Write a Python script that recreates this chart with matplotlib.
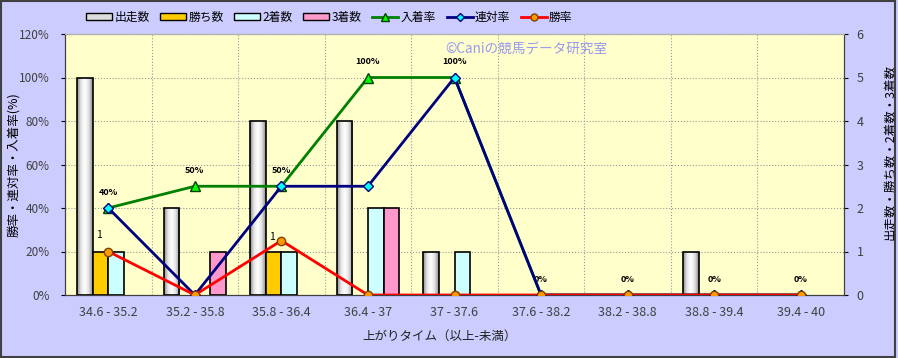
import numpy as np
import matplotlib.pyplot as plt
from matplotlib.patches import Patch, Rectangle
from matplotlib.lines import Line2D
from matplotlib.colors import LinearSegmentedColormap
from matplotlib.ticker import FuncFormatter

plt.rcParams['font.family'] = ['Noto Sans CJK JP', 'DejaVu Sans']

# data
categories = ['34.6 - 35.2', '35.2 - 35.8', '35.8 - 36.4', '36.4 - 37', '37 - 37.6',
              '37.6 - 38.2', '38.2 - 38.8', '38.8 - 39.4', '39.4 - 40']
starts = [5, 2, 4, 4, 1, 0, 0, 1, 0]      # 出走数
wins = [1, 0, 1, 0, 0, 0, 0, 0, 0]        # 勝ち数
seconds = [1, 0, 1, 2, 1, 0, 0, 0, 0]     # 2着数
thirds = [0, 1, 0, 2, 0, 0, 0, 0, 0]      # 3着数
place_rate = [40, 50, 50, 100, 100, 0, 0, 0, 0]   # 入着率
quin_rate = [40, 0, 50, 50, 100, 0, 0, 0, 0]      # 連対率
win_rate = [20, 0, 25, 0, 0, 0, 0, 0, 0]          # 勝率

fig = plt.figure(figsize=(8.98, 3.58), dpi=100, facecolor='#ccccff')
ax = fig.add_axes([65/898, 63/358, 779/898, 261/358])
ax.set_facecolor('#ffffcc')
ax2 = ax.twinx()
ax2.patch.set_visible(False)

x = np.arange(len(categories))
w = 0.18

def nz(vals):
    # bars with zero height are not drawn (no stray edge lines)
    v = np.array(vals, dtype=float)
    return np.where(v > 0, v, np.nan)

# bars on the count axis
cyl = LinearSegmentedColormap.from_list('cyl', ['#8c8c8c', '#e6e6e6', '#ffffff', '#e0e0e0', '#8a8a8a'])
grad = np.linspace(0, 1, 64).reshape(1, -1)
bars = ax.bar(x - 1.5*w, nz(starts), w, facecolor='none', edgecolor='black', lw=1.2, zorder=3)
for r in bars:
    if r.get_height() > 0:
        im = ax.imshow(grad, cmap=cyl, extent=[r.get_x(), r.get_x()+w, 0, r.get_height()],
                       aspect='auto', zorder=2.9)
        im.set_clip_path(r)
ax.bar(x - 0.5*w, nz(wins), w, color='#ffcc00', edgecolor='black', lw=1.2, zorder=3)
ax.bar(x + 0.5*w, nz(seconds), w, color='#ccffff', edgecolor='black', lw=1.2, zorder=3)
ax.bar(x + 1.5*w, nz(thirds), w, color='#ff99cc', edgecolor='black', lw=1.2, zorder=3)

ax.set_xlim(-0.5, len(categories) - 0.5)
ax.set_ylim(0, 6)
ax.set_yticks(range(0, 7))
ax.set_xticks(x)
ax.set_xticklabels(categories)
ax.set_xticks(np.arange(-0.5, len(categories), 1), minor=True)
ax.grid(which='minor', axis='x', ls=':', color='#999999', lw=0.8)
ax.grid(which='major', axis='y', ls=':', color='#999999', lw=0.8)
ax.set_axisbelow(True)
ax.yaxis.tick_right()
ax.yaxis.set_label_position('right')
ax.tick_params(axis='x', which='both', length=0, pad=8, labelsize=9, labelcolor='#404040')
ax.tick_params(axis='y', length=3, pad=6, labelsize=9, labelcolor='#404040')
ax.set_ylabel('出走数・勝ち数・2着数・3着数', fontsize=9)
ax.yaxis.set_label_coords((883 - 65) / 779, 0.55)
ax.set_xlabel('上がりタイム（以上-未満）', fontsize=9, color='#202020')
ax.xaxis.set_label_coords((440 - 65) / 779, -(330 - 295) / 261)

# lines on the percent axis
ax2.plot(x, place_rate, color='#008000', lw=2, marker='^', ms=7, mfc='#00ff00', mec='#004000', zorder=4)
ax2.plot(x, quin_rate, color='#000080', lw=2, marker='D', ms=5, mfc='#00ffff', mec='#000080', zorder=5)
ax2.plot(x, win_rate, color='#ff0000', lw=2, marker='o', ms=6, mfc='#ff9900', mec='#804000', zorder=6)

for xi, v in zip(x, place_rate):
    ax2.annotate(f'{v}%', (xi, v), xytext=(0, 8), textcoords='offset points',
                 ha='center', va='bottom', fontsize=6.5, fontweight='bold')
red_offsets = [(-7, 8), (-7, -1)]
k = 0
for xi, v, n in zip(x, win_rate, wins):
    if v > 0:
        ax2.annotate(str(n), (xi, v), xytext=red_offsets[k], textcoords='offset points',
                     ha='center', va='bottom', fontsize=7.5)
        k += 1

ax2.set_ylim(0, 120)
ax2.set_yticks(range(0, 121, 20))
ax2.yaxis.set_major_formatter(FuncFormatter(lambda v, p: f'{int(v)}%'))
ax2.yaxis.tick_left()
ax2.yaxis.set_label_position('left')
ax2.tick_params(axis='y', length=3, pad=8, labelsize=8.5, labelcolor='#404040')
ax2.set_ylabel('勝率・連対率・入着率(%)', fontsize=9)
ax2.yaxis.set_label_coords((20 - 65) / 779, 0.5)

for a in (ax, ax2):
    for s in ('left', 'right', 'bottom'):
        a.spines[s].set_color('#404040')
    a.spines['top'].set_color('#b0b0b0')

fig.text(445/898, 1 - 49/358, '©Caniの競馬データ研究室', color='#9999ee', fontsize=9.8,
         va='center', ha='left')

handles = [Patch(facecolor='#dddddd', edgecolor='black'),
           Patch(facecolor='#ffcc00', edgecolor='black'),
           Patch(facecolor='#ccffff', edgecolor='black'),
           Patch(facecolor='#ff99cc', edgecolor='black'),
           Line2D([], [], color='#008000', lw=2, marker='^', ms=6, mfc='#00ff00', mec='#004000'),
           Line2D([], [], color='#000080', lw=2, marker='D', ms=4, mfc='#00ffff', mec='#000080'),
           Line2D([], [], color='#ff0000', lw=2, marker='o', ms=5, mfc='#ff9900', mec='#804000')]
labels = ['出走数', '勝ち数', '2着数', '3着数', '入着率', '連対率', '勝率']
fig.legend(handles, labels, loc='center left', bbox_to_anchor=(80/898, 1 - 17/358), ncol=7,
           frameon=False, fontsize=8.5, handlelength=2.2, handleheight=0.5, handletextpad=0.2,
           columnspacing=0.9, borderpad=0)

fig.patches.append(Rectangle((0.001, 0.003), 0.996, 0.994, transform=fig.transFigure,
                             fill=False, ec='#404040', lw=1.5))

fig.savefig('out.png', dpi=100, facecolor=fig.get_facecolor())
